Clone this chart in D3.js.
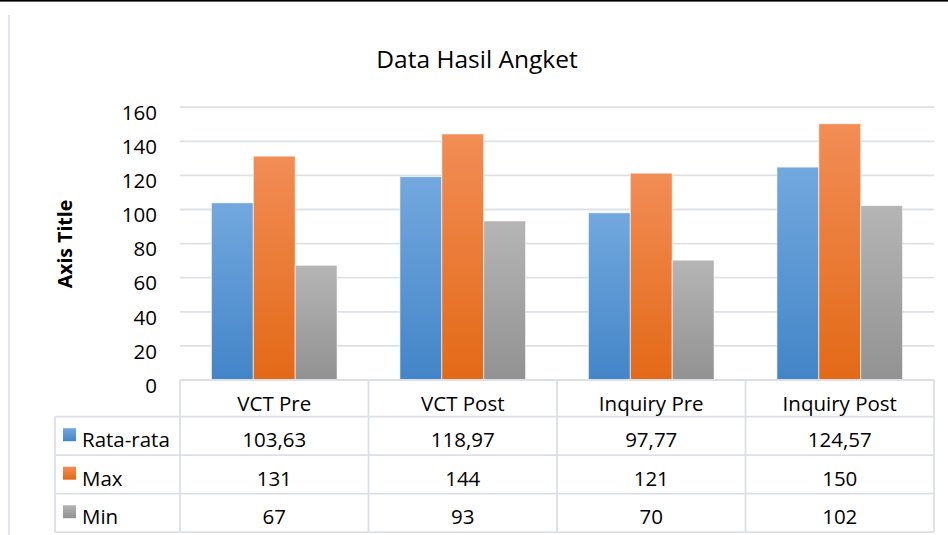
<!DOCTYPE html>
<html>
<head>
<meta charset="utf-8">
<script src="https://cdn.jsdelivr.net/npm/d3@7"></script>
<style>
  body { margin: 0; background: #fff; }
  text { font-family: "Open Sans", sans-serif; fill: #000; }
</style>
</head>
<body>
<div id="chart"></div>
<script>
// data
var categories = ["VCT Pre", "VCT Post", "Inquiry Pre", "Inquiry Post"];
var seriesNames = ["Rata-rata", "Max", "Min"];
var rataRata = [103.63, 118.97, 97.77, 124.57];
var maxValues = [131, 144, 121, 150];
var minValues = [67, 93, 70, 102];
var yTicks = [0, 20, 40, 60, 80, 100, 120, 140, 160];

var seriesValues = [rataRata, maxValues, minValues];
var colors = [
  {top: "#72a8de", bottom: "#4385c8"},
  {top: "#f28d56", bottom: "#e36916"},
  {top: "#b5b5b5", bottom: "#929292"}
];

var width = 948, height = 535;
var plot = {left: 180, right: 934, top: 106.7, bottom: 379.5};
var tableTop = 380, headerH = 36.7, rowH = 38.5, labelLeft = 55;
var gridColor = "#dde1e6";

var svg = d3.select("#chart").append("svg")
  .attr("width", width)
  .attr("height", height);

// gradients for the bars
var defs = svg.append("defs");
colors.forEach(function(c, i) {
  var g = defs.append("linearGradient")
    .attr("id", "grad" + i)
    .attr("x1", 0).attr("y1", 0).attr("x2", 0).attr("y2", 1);
  g.append("stop").attr("offset", "0%").attr("stop-color", c.top);
  g.append("stop").attr("offset", "100%").attr("stop-color", c.bottom);
});

// frame bits
svg.append("rect").attr("x", 0).attr("y", 0).attr("width", width).attr("height", 1.6).attr("fill", "#000");
svg.append("rect").attr("x", 8).attr("y", 15).attr("width", 2).attr("height", height - 15).attr("fill", "#e4e7eb");

// scales
var x = d3.scaleBand().domain(categories).range([plot.left, plot.right]).paddingInner(0).paddingOuter(0);
var xInner = d3.scaleBand().domain(seriesNames).range([0, x.bandwidth()]).paddingInner(0).paddingOuter(0.75);
var y = d3.scaleLinear().domain([0, 160]).range([plot.bottom, plot.top]);

// title
svg.append("text")
  .attr("x", 477).attr("y", 68)
  .attr("text-anchor", "middle")
  .style("font-size", "24.5px")
  .text("Data Hasil Angket");

// axis title
svg.append("text")
  .attr("transform", "translate(72,244) rotate(-90)")
  .attr("text-anchor", "middle")
  .style("font-size", "19.5px")
  .style("font-weight", "bold")
  .text("Axis Title");

// gridlines
var yAxis = d3.axisLeft(y).tickValues(yTicks).tickSize(-(plot.right - plot.left)).tickPadding(23).tickFormat(d3.format("d"));
var gy = svg.append("g")
  .attr("transform", "translate(" + plot.left + ",0)")
  .call(yAxis);
gy.select(".domain").remove();
gy.selectAll(".tick line").attr("stroke", gridColor).attr("stroke-width", 1.8);
gy.selectAll(".tick text")
  .attr("dy", "0.72em")
  .attr("y", -2)
  .style("font-size", "20.5px")
  .style("font-family", "'Open Sans', sans-serif")
  .attr("fill", "#000");
gy.selectAll(".tick").filter(function(d) { return d === 0; }).select("line").remove();

// bars
var groups = svg.selectAll(".cat")
  .data(categories)
  .enter().append("g")
  .attr("class", "cat")
  .attr("transform", function(d) { return "translate(" + x(d) + ",0)"; });

groups.selectAll("rect")
  .data(function(d, ci) {
    return seriesNames.map(function(s, si) { return {series: s, si: si, value: seriesValues[si][ci]}; });
  })
  .enter().append("rect")
  .attr("x", function(d) { return xInner(d.series); })
  .attr("width", xInner.bandwidth())
  .attr("y", function(d) { return y(d.value); })
  .attr("height", function(d) { return y(0) - y(d.value); })
  .attr("fill", function(d) { return "url(#grad" + d.si + ")"; })
  .attr("stroke", "#ffffff")
  .attr("stroke-opacity", 0.6)
  .attr("stroke-width", 1);

// data table
var tbl = svg.append("g").attr("class", "table");
var tableBottom = tableTop + headerH + rowH * seriesNames.length;
var borderColor = "#dce0e6";

function hline(x1, x2, yy) {
  tbl.append("line").attr("x1", x1).attr("x2", x2).attr("y1", yy).attr("y2", yy)
    .attr("stroke", borderColor).attr("stroke-width", 1.8);
}
function vline(xx, y1, y2) {
  tbl.append("line").attr("x1", xx).attr("x2", xx).attr("y1", y1).attr("y2", y2)
    .attr("stroke", borderColor).attr("stroke-width", 1.8);
}

hline(plot.left, plot.right, tableTop);
for (var r = 0; r <= seriesNames.length; r++) {
  hline(labelLeft, plot.right, tableTop + headerH + r * rowH);
}
vline(labelLeft, tableTop + headerH, tableBottom);
categories.forEach(function(c) { vline(x(c), tableTop, tableBottom); });
vline(plot.right, tableTop, tableBottom);

// header row
tbl.selectAll(".hdr")
  .data(categories)
  .enter().append("text")
  .attr("class", "hdr")
  .attr("x", function(d) { return x(d) + x.bandwidth() / 2; })
  .attr("y", tableTop + headerH - 5.5)
  .attr("text-anchor", "middle")
  .style("font-size", "20.5px")
  .text(function(d) { return d; });

var fmt = d3.formatLocale({decimal: ",", thousands: ".", grouping: [3], currency: ["", ""]});
var fmtDec = fmt.format(".2f");

seriesNames.forEach(function(s, si) {
  var rowY = tableTop + headerH + si * rowH;
  var baseY = rowY + rowH - 8;
  // legend key
  tbl.append("rect")
    .attr("x", 63).attr("y", baseY - 19)
    .attr("width", 13).attr("height", 13)
    .attr("fill", "url(#grad" + si + ")");
  tbl.append("text")
    .attr("x", 82).attr("y", baseY)
    .style("font-size", "20.5px")
    .text(s);
  tbl.selectAll(".v" + si)
    .data(seriesValues[si])
    .enter().append("text")
    .attr("class", "v" + si)
    .attr("x", function(d, i) { return x(categories[i]) + x.bandwidth() / 2; })
    .attr("y", baseY)
    .attr("text-anchor", "middle")
    .style("font-size", "20.5px")
    .text(function(d) { return Number.isInteger(d) ? d : fmtDec(d); });
});
</script>
</body>
</html>
